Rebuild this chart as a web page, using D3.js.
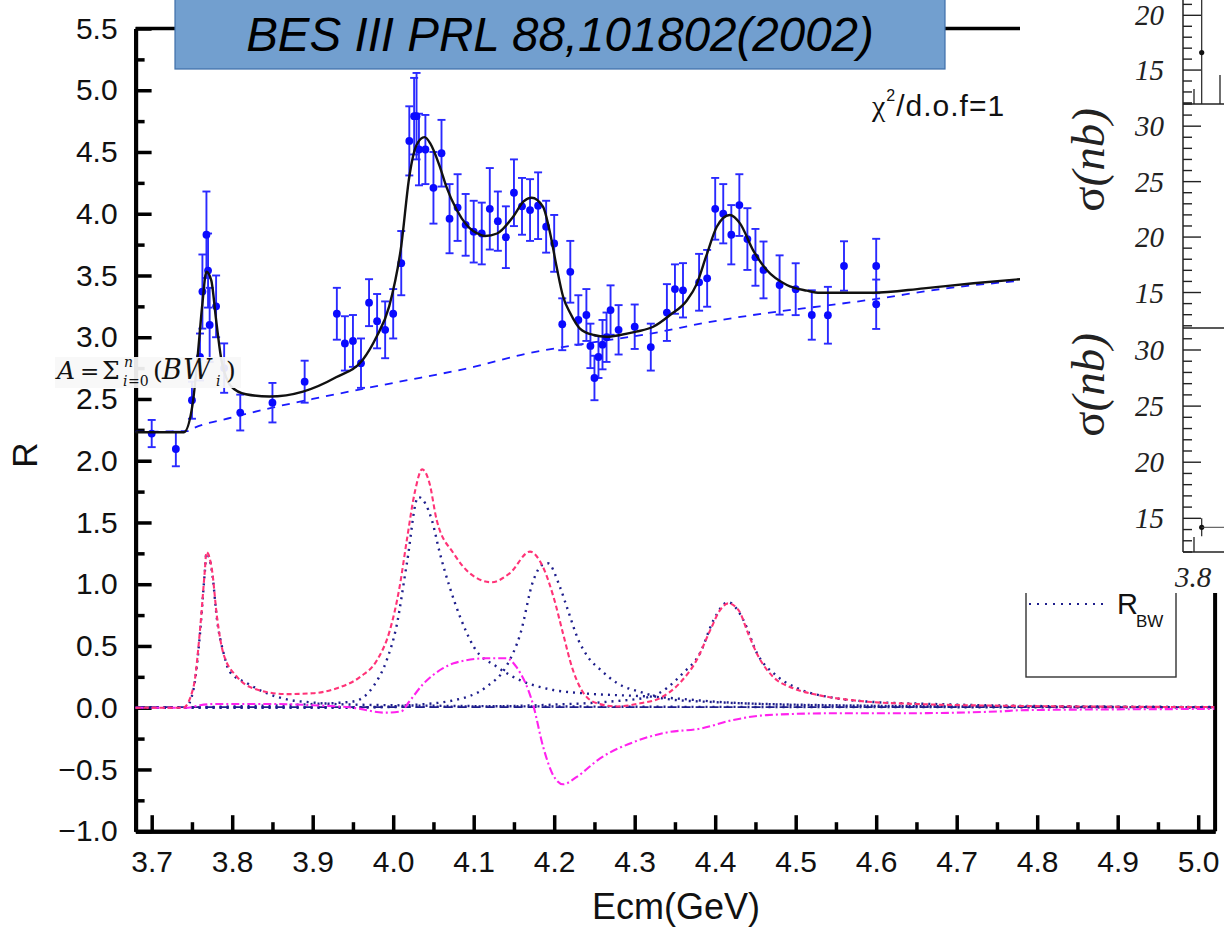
<!DOCTYPE html>
<html>
<head>
<meta charset="utf-8">
<script src="https://cdn.jsdelivr.net/npm/d3@7"></script>
<style>
  html, body { margin: 0; padding: 0; background: #fff; }
  svg { display: block; }
  text { font-family: "Liberation Sans", Arial, sans-serif; }
</style>
</head>
<body>
<svg id="chart" width="1224" height="940"></svg>
<script>
"use strict";

var energy = [3.70, 3.73, 3.75, 3.76, 3.763, 3.768, 3.77, 3.772, 3.78, 3.79, 3.81, 3.85, 3.89,
    3.93, 3.94, 3.95, 3.96, 3.97, 3.98, 3.99, 4.00, 4.01, 4.02, 4.026, 4.029, 4.032, 4.04,
    4.05, 4.06, 4.07, 4.08, 4.09, 4.10, 4.11, 4.12, 4.13, 4.14, 4.15, 4.16, 4.17, 4.18,
    4.19, 4.20, 4.21, 4.22, 4.23, 4.24, 4.245, 4.25, 4.255, 4.26, 4.265, 4.27, 4.28, 4.30,
    4.32, 4.34, 4.35, 4.36, 4.38, 4.39, 4.40, 4.41, 4.42, 4.43, 4.44, 4.45, 4.46, 4.48,
    4.50, 4.52, 4.54, 4.56, 4.60, 4.60];
var rValue = [2.22, 2.095, 2.49, 2.84, 3.37, 3.83, 3.54, 3.10, 3.25, 2.75, 2.39, 2.47, 2.64,
    3.19, 2.95, 2.97, 2.79, 3.28, 3.13, 3.06, 3.19, 3.60, 4.59, 4.79, 4.79, 4.52, 4.52,
    4.21, 4.49, 3.96, 4.05, 3.91, 3.855, 3.84, 4.04, 3.94, 3.81, 4.17, 4.06, 4.03, 4.065,
    3.895, 3.76, 3.105, 3.53, 3.14, 3.18, 2.93, 2.67, 2.84, 2.94, 3.00, 3.22, 3.06, 3.085,
    2.92, 3.20, 3.39, 3.38, 3.445, 3.477, 4.04, 4.00, 3.83, 4.07, 3.795, 3.647, 3.545, 3.423,
    3.389, 3.18, 3.178, 3.577, 3.577, 3.267];
var rError = [0.11, 0.14, 0.15, 0.19, 0.30, 0.35, 0.30, 0.30, 0.25, 0.20, 0.145, 0.16, 0.17,
    0.21, 0.22, 0.21, 0.20, 0.19, 0.22, 0.23, 0.20, 0.26, 0.28, 0.31, 0.35, 0.29, 0.28,
    0.29, 0.27, 0.28, 0.27, 0.25, 0.25, 0.25, 0.33, 0.24, 0.25, 0.27, 0.23, 0.25, 0.27,
    0.21, 0.23, 0.21, 0.25, 0.20, 0.21, 0.18, 0.18, 0.17, 0.20, 0.20, 0.20, 0.20, 0.18,
    0.19, 0.23, 0.20, 0.22, 0.23, 0.23, 0.25, 0.24, 0.24, 0.25, 0.25, 0.23, 0.23, 0.24,
    0.21, 0.20, 0.23, 0.20, 0.22, 0.20];

// ---- fit (solid) and background (dashed) ----
var fitCurve = [[3.68, 2.23], [3.740, 2.23], [3.751, 2.465], [3.757, 2.84], [3.763, 3.275],
    [3.768, 3.53], [3.774, 3.46], [3.780, 3.14], [3.786, 2.84], [3.799, 2.60], [3.817, 2.538],
    [3.846, 2.52], [3.888, 2.56], [3.929, 2.676], [3.962, 2.816], [3.979, 3.0], [3.995, 3.25],
    [4.010, 3.74], [4.020, 4.30], [4.029, 4.557], [4.039, 4.62], [4.046, 4.57], [4.058, 4.38],
    [4.066, 4.22], [4.079, 4.03], [4.091, 3.91], [4.108, 3.83], [4.114, 3.82], [4.129, 3.84],
    [4.149, 3.976], [4.162, 4.10], [4.172, 4.13], [4.186, 4.057], [4.195, 3.84], [4.203, 3.57],
    [4.211, 3.33], [4.220, 3.194], [4.232, 3.07], [4.249, 3.018], [4.265, 3.004], [4.282, 3.018],
    [4.302, 3.045], [4.323, 3.085], [4.344, 3.18], [4.365, 3.30], [4.377, 3.43], [4.389, 3.66],
    [4.402, 3.895], [4.418, 3.99], [4.431, 3.92], [4.447, 3.706], [4.464, 3.544], [4.489, 3.423],
    [4.514, 3.377], [4.530, 3.36], [4.555, 3.36], [4.596, 3.36], [4.659, 3.396], [4.721, 3.437],
    [4.779, 3.47], [4.90, 3.53], [5.02, 3.58]];
var bkgCurve = [[3.68, 2.235], [3.745, 2.24], [3.75, 2.257], [3.80, 2.35], [3.85, 2.43],
    [3.90, 2.50], [4.00, 2.63], [4.10, 2.76], [4.158, 2.856], [4.25, 2.96], [4.32, 3.03],
    [4.39, 3.12], [4.48, 3.21], [4.53, 3.25], [4.60, 3.31], [4.68, 3.39], [4.78, 3.458],
    [4.90, 3.52], [5.02, 3.58]];

// ---- components ----
var sumBW = [[3.68, 0], [3.739, 0], [3.752, 0.17], [3.760, 0.63], [3.766, 1.11], [3.768, 1.26],
    [3.775, 1.11], [3.781, 0.74], [3.789, 0.44], [3.806, 0.25], [3.826, 0.157], [3.868, 0.11],
    [3.90, 0.117], [3.93, 0.157], [3.959, 0.25], [3.98, 0.386], [3.996, 0.63], [4.008, 0.98],
    [4.017, 1.36], [4.027, 1.75], [4.036, 1.93], [4.045, 1.82], [4.054, 1.52], [4.075, 1.25],
    [4.095, 1.09], [4.122, 1.016], [4.145, 1.09], [4.17, 1.264], [4.186, 1.14], [4.199, 0.90],
    [4.211, 0.60], [4.222, 0.33], [4.234, 0.143], [4.253, 0.036], [4.278, 0.01], [4.307, 0.036],
    [4.331, 0.076], [4.356, 0.20], [4.377, 0.386], [4.394, 0.63], [4.406, 0.79], [4.416, 0.845],
    [4.429, 0.79], [4.441, 0.60], [4.454, 0.41], [4.472, 0.25], [4.497, 0.157], [4.53, 0.10],
    [4.58, 0.054], [4.65, 0.03], [4.78, 0.014], [4.90, 0.008], [5.02, 0.005]];
var bw3770 = [[3.68, 0], [3.742, 0], [3.752, 0.15], [3.760, 0.6], [3.766, 1.1], [3.768, 1.25],
    [3.775, 1.1], [3.781, 0.72], [3.789, 0.45], [3.797, 0.29], [3.818, 0.20], [3.843, 0.117],
    [3.872, 0.062], [3.897, 0.044], [3.926, 0.03], [4.0, 0.02], [4.2, 0.01], [4.6, 0.005],
    [5.02, 0.003]];
var bw4040 = [[3.68, 0], [3.80, 0.01], [3.90, 0.03], [3.95, 0.05], [3.975, 0.17], [3.992, 0.386],
    [4.004, 0.656], [4.017, 1.17], [4.031, 1.706], [4.048, 1.52], [4.058, 1.25], [4.07, 0.98],
    [4.083, 0.737], [4.10, 0.494], [4.129, 0.33], [4.149, 0.25], [4.199, 0.143], [4.236, 0.117],
    [4.32, 0.09], [4.422, 0.04], [4.505, 0.022], [4.78, 0.008], [5.02, 0.004]];
var bw4160 = [[3.68, 0], [3.95, 0], [4.02, 0.02], [4.075, 0.06], [4.116, 0.17], [4.141, 0.34],
    [4.158, 0.60], [4.174, 1.03], [4.186, 1.16], [4.192, 1.17], [4.207, 0.98], [4.216, 0.81],
    [4.23, 0.55], [4.242, 0.41], [4.257, 0.31], [4.278, 0.20], [4.311, 0.12], [4.34, 0.07],
    [4.40, 0.045], [4.50, 0.025], [4.78, 0.008], [5.02, 0.004]];
var bw4415 = [[3.68, 0], [4.10, 0.01], [4.20, 0.025], [4.27, 0.05], [4.32, 0.09], [4.36, 0.28],
    [4.381, 0.44], [4.398, 0.71], [4.416, 0.855], [4.435, 0.71], [4.452, 0.44], [4.476, 0.26],
    [4.505, 0.15], [4.547, 0.08], [4.588, 0.05], [4.671, 0.03], [4.78, 0.015], [5.02, 0.006]];
var interference = [[3.68, 0], [3.745, 0], [3.76, 0.02], [3.78, 0.03], [3.85, 0.03], [3.90, 0.02],
    [3.95, 0.0], [3.99, -0.04], [4.01, -0.03], [4.02, 0.05], [4.037, 0.19], [4.062, 0.32],
    [4.075, 0.36], [4.116, 0.40], [4.141, 0.40], [4.153, 0.33], [4.174, 0.02], [4.186, -0.31],
    [4.199, -0.55], [4.211, -0.62], [4.228, -0.56], [4.257, -0.41], [4.298, -0.28], [4.34, -0.20],
    [4.381, -0.17], [4.422, -0.10], [4.464, -0.06], [4.547, -0.045], [4.63, -0.045],
    [4.754, -0.03], [4.78, -0.02], [5.02, -0.01]];
var zeroBaseline = [[3.68, 0.005], [5.02, 0.005]];

// ---- ticks ----
var xMajorTicks = d3.range(37, 51).map(function(d) { return d / 10; });
var xMinorTicks = d3.range(37, 50).map(function(d) { return (d + 0.5) / 10; });
var yMajorTicks = d3.range(-2, 12).map(function(d) { return d / 2; });
var yMinorTicks = d3.range(-4, 22).filter(function(d) { return d % 2 !== 0; }).map(function(d) { return d / 4; });

// ---- inset fragment on the right (sigma panels) ----
var panelDomains = [[11.9, 21.4], [11.8, 32.0], [12.0, 31.96]];
var panelLabels = [[15, 20], [15, 20, 25, 30], [15, 20, 25, 30]];
var panelPoints = [{x: 3.807, y: 16.6, lo: 11.9, hi: 21.4, panel: 0},
                   {x: 3.807, y: 14.2, lo: 13.4, hi: 15.0, panel: 2}];

var svg = d3.select('#chart');

var x = d3.scaleLinear().domain([3.68, 5.021]).range([135.6, 1215.1]);
var y = d3.scaleLinear().domain([-1, 5.5]).range([831.2, 28.5]);

var line = d3.line()
    .x(function(d) { return x(d[0]); })
    .y(function(d) { return y(d[1]); })
    .curve(d3.curveMonotoneX);

// frame (top and right)
svg.append('line').attr('x1', x.range()[0]).attr('x2', x.range()[1])
    .attr('y1', y(5.5)).attr('y2', y(5.5)).attr('stroke', '#000').attr('stroke-width', 3.5);
svg.append('line').attr('x1', x.range()[1]).attr('x2', x.range()[1])
    .attr('y1', y(5.5)).attr('y2', y(-1)).attr('stroke', '#000').attr('stroke-width', 4);

// axes
function styleAxis(g) {
    g.select('.domain').attr('stroke', '#000').attr('stroke-width', 4);
    g.selectAll('.tick line').attr('stroke', '#000').attr('stroke-width', 3.5);
    g.selectAll('.tick text').attr('fill', '#111')
        .style('font-family', '"Liberation Sans", Arial, sans-serif').style('font-size', '30px');
}

svg.append('g').attr('transform', 'translate(' + x.range()[0] + ',0)')
    .call(d3.axisLeft(y).tickValues(yMinorTicks).tickSize(-9).tickSizeOuter(0).tickFormat(''))
    .call(styleAxis);
svg.append('g').attr('transform', 'translate(' + x.range()[0] + ',0)')
    .call(d3.axisLeft(y).tickValues(yMajorTicks).tickSize(-16).tickSizeOuter(0)
        .tickPadding(18).tickFormat(d3.format('.1f')))
    .call(styleAxis);

svg.append('g').attr('transform', 'translate(0,' + y(-1) + ')')
    .call(d3.axisBottom(x).tickValues(xMinorTicks).tickSize(-9).tickSizeOuter(0).tickFormat(''))
    .call(styleAxis);
svg.append('g').attr('transform', 'translate(0,' + y(-1) + ')')
    .call(d3.axisBottom(x).tickValues(xMajorTicks).tickSize(-16).tickSizeOuter(0)
        .tickPadding(20).tickFormat(d3.format('.1f')))
    .call(styleAxis);

// axis titles
svg.append('text').attr('transform', 'translate(37,455) rotate(-90)')
    .attr('text-anchor', 'middle').style('font-size', '35px').attr('fill', '#111').text('R');
svg.append('text').attr('x', 676).attr('y', 919)
    .attr('text-anchor', 'middle').style('font-size', '36px').attr('fill', '#111').text('Ecm(GeV)');

// component curves
var components = [
    {data: zeroBaseline, color: '#1e1e8c', width: 1.7, dash: '9,5'},
    {data: bw3770, color: '#1e1e8c', width: 2.4, dash: '2,5'},
    {data: bw4040, color: '#1e1e8c', width: 2.4, dash: '2,5'},
    {data: bw4160, color: '#1e1e8c', width: 2.4, dash: '2,5'},
    {data: bw4415, color: '#1e1e8c', width: 2.4, dash: '2,5'},
    {data: interference, color: '#ff22ee', width: 2.1, dash: '8,3,2,3'},
    {data: sumBW, color: '#ff3377', width: 2.1, dash: '5,3'}
];
svg.append('g').selectAll('path').data(components).join('path')
    .attr('d', function(d) { return line(d.data); })
    .attr('fill', 'none')
    .attr('stroke', function(d) { return d.color; })
    .attr('stroke-width', function(d) { return d.width; })
    .attr('stroke-dasharray', function(d) { return d.dash; });

// background and fit
svg.append('path').attr('d', line(bkgCurve)).attr('fill', 'none')
    .attr('stroke', '#1a1aff').attr('stroke-width', 1.8).attr('stroke-dasharray', '8,7');

// data with errors
var points = energy.map(function(e, i) { return {e: e, r: rValue[i], err: rError[i]}; });
var pts = svg.append('g');
pts.selectAll('line.bar').data(points).join('line').attr('class', 'bar')
    .attr('x1', function(d) { return x(d.e); }).attr('x2', function(d) { return x(d.e); })
    .attr('y1', function(d) { return y(d.r - d.err); }).attr('y2', function(d) { return y(d.r + d.err); })
    .attr('stroke', '#2a2aff').attr('stroke-width', 1.9);
[-1, 1].forEach(function(s) {
    pts.selectAll('line.cap' + (s > 0 ? 'u' : 'd')).data(points).join('line').attr('class', 'cap' + (s > 0 ? 'u' : 'd'))
        .attr('x1', function(d) { return x(d.e) - 4; }).attr('x2', function(d) { return x(d.e) + 4; })
        .attr('y1', function(d) { return y(d.r + s * d.err); }).attr('y2', function(d) { return y(d.r + s * d.err); })
        .attr('stroke', '#2a2aff').attr('stroke-width', 1.9);
});

svg.append('path').attr('d', line(fitCurve)).attr('fill', 'none')
    .attr('stroke', '#111').attr('stroke-width', 2.4);

pts.selectAll('circle').data(points).join('circle')
    .attr('cx', function(d) { return x(d.e); }).attr('cy', function(d) { return y(d.r); })
    .attr('r', 3.9).attr('fill', '#0a0aff');

// formula label, one text element built from positioned pieces
var formulaPieces = [
    {s: 'A', x: 57, y: 379, size: 25, it: true},
    {s: '=', x: 80, y: 379, size: 23, it: false},
    {s: 'Σ', x: 102, y: 379, size: 25, it: false},
    {s: 'n', x: 124, y: 367, size: 14, it: true},
    {s: 'i', x: 123, y: 386, size: 14, it: true},
    {s: '=0', x: 128, y: 386, size: 14, it: false},
    {s: '(', x: 153, y: 379, size: 25, it: false},
    {s: 'B', x: 162, y: 379, size: 27, it: true},
    {s: 'W', x: 183, y: 379, size: 27, it: true},
    {s: 'i', x: 216, y: 386, size: 14, it: true},
    {s: ')', x: 226, y: 379, size: 25, it: false}
];
var formula = svg.append('g');
formula.append('rect').attr('x', 55).attr('y', 357).attr('width', 186).attr('height', 31)
    .attr('fill', '#f8f8f8').attr('opacity', 0.93);
formula.append('text').style('font-family', '"DejaVu Serif", "Liberation Serif", serif').attr('fill', '#111')
    .selectAll('tspan').data(formulaPieces).join('tspan')
    .attr('x', function(d) { return d.x; }).attr('y', function(d) { return d.y; })
    .style('font-size', function(d) { return d.size + 'px'; })
    .style('font-style', function(d) { return d.it ? 'italic' : 'normal'; })
    .text(function(d) { return d.s; });

// title box
svg.append('rect').attr('x', 175).attr('y', -2).attr('width', 770).attr('height', 71)
    .attr('fill', '#729fcf').attr('stroke', '#3f6fa8').attr('stroke-width', 1.2);
svg.append('text').attr('x', 560).attr('y', 51).attr('text-anchor', 'middle')
    .style('font-size', '47.5px').style('font-style', 'italic').attr('fill', '#000')
    .text('BES III PRL 88,101802(2002)');

// chi2 text
var chi = svg.append('text').attr('x', 872).attr('y', 116).style('font-size', '30px')
    .style('letter-spacing', '1px').attr('fill', '#111');
chi.append('tspan').style('font-family', '"Liberation Serif", serif').text('χ');
chi.append('tspan').attr('dy', -15).style('font-size', '16px').text('2');
chi.append('tspan').attr('dy', 15).text('/d.o.f=1');

// legend fragment
svg.append('rect').attr('x', 1026).attr('y', 560).attr('width', 150).attr('height', 117)
    .attr('fill', '#fff').attr('stroke', '#333').attr('stroke-width', 1.4);
svg.append('line').attr('x1', 1029).attr('x2', 1106).attr('y1', 604).attr('y2', 604)
    .attr('stroke', '#1e1e8c').attr('stroke-width', 1.8).attr('stroke-dasharray', '2,6');
svg.append('text').attr('x', 1117).attr('y', 614).style('font-size', '29px').attr('fill', '#111').text('R');
svg.append('text').attr('x', 1136).attr('y', 627).style('font-size', '17px').attr('fill', '#111').text('BW');

// ---- pasted inset on the right ----
var inset = svg.append('g');
inset.append('rect').attr('x', 1020).attr('y', 0).attr('width', 204).attr('height', 593).attr('fill', '#fff');

var panelTop = [0, 104, 328];
var panelBottom = [104, 328, 552];
var panelX = d3.scaleLinear().domain([3.79, 3.82]).range([1183, 1216]);
var serifItalic = '"Liberation Serif", "DejaVu Serif", serif';

panelDomains.forEach(function(dom, i) {
    var py = d3.scaleLinear().domain(dom).range([panelBottom[i], panelTop[i]]);
    var g = inset.append('g');
    var unitTicks = d3.range(Math.ceil(dom[0]), Math.floor(dom[1]) + 1);
    g.selectAll('line.t').data(unitTicks).join('line').attr('class', 't')
        .attr('x1', 1183).attr('x2', function(d) { return d % 5 === 0 ? 1201 : 1192; })
        .attr('y1', function(d) { return py(d); }).attr('y2', function(d) { return py(d); })
        .attr('stroke', '#222').attr('stroke-width', 1.4);
    g.selectAll('text').data(panelLabels[i]).join('text')
        .attr('x', 1164).attr('y', function(d) { return py(d) + 10; })
        .attr('text-anchor', 'end')
        .style('font-family', serifItalic).style('font-style', 'italic').style('font-size', '29px')
        .attr('fill', '#222').text(function(d) { return d; });
    g.append('line').attr('x1', 1183).attr('x2', 1224)
        .attr('y1', panelBottom[i]).attr('y2', panelBottom[i]).attr('stroke', '#222').attr('stroke-width', 1.5);
    if (i !== 1) {
        g.append('line').attr('x1', panelX(3.8)).attr('x2', panelX(3.8))
            .attr('y1', panelBottom[i]).attr('y2', panelBottom[i] - 15)
            .attr('stroke', '#222').attr('stroke-width', 1.3);
    }
});
inset.append('line').attr('x1', 1183).attr('x2', 1183).attr('y1', 0).attr('y2', 552)
    .attr('stroke', '#222').attr('stroke-width', 1.5);
inset.append('line').attr('x1', 1220).attr('x2', 1220).attr('y1', 75).attr('y2', 104)
    .attr('stroke', '#222').attr('stroke-width', 1.3);

panelPoints.forEach(function(p) {
    var py = d3.scaleLinear().domain(panelDomains[p.panel]).range([panelBottom[p.panel], panelTop[p.panel]]);
    inset.append('line').attr('x1', panelX(p.x)).attr('x2', panelX(p.x))
        .attr('y1', py(p.lo)).attr('y2', py(p.hi)).attr('stroke', '#222').attr('stroke-width', 1.2);
    inset.append('circle').attr('cx', panelX(p.x)).attr('cy', py(p.y)).attr('r', 2.6).attr('fill', '#111');
    if (p.panel === 2) {
        inset.append('line').attr('x1', panelX(p.x)).attr('x2', 1224)
            .attr('y1', py(p.y)).attr('y2', py(p.y)).attr('stroke', '#444').attr('stroke-width', 1);
    }
});

[160, 385].forEach(function(cy) {
    var t = inset.append('text').attr('transform', 'translate(1104,' + cy + ') rotate(-90)')
        .attr('text-anchor', 'middle').style('font-family', serifItalic).style('font-size', '47px')
        .attr('fill', '#222');
    t.append('tspan').text('σ');
    t.append('tspan').style('font-style', 'italic').text('(nb)');
});
inset.append('text').attr('x', 1193).attr('y', 587).attr('text-anchor', 'middle')
    .style('font-family', serifItalic).style('font-style', 'italic').style('font-size', '29px')
    .attr('fill', '#222').text('3.8');
</script>
</body>
</html>
